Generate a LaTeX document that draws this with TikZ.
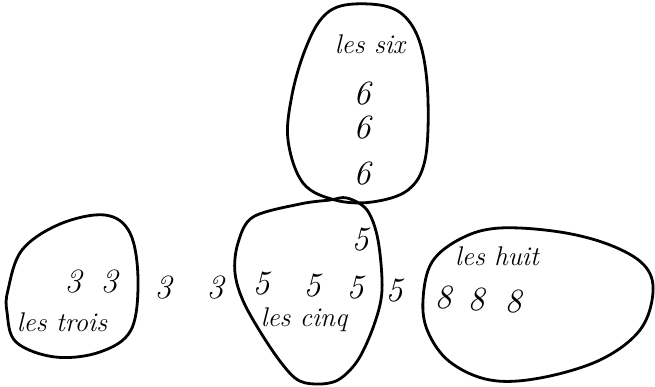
\documentclass[tikz,border=0pt]{standalone}
\begin{document}
\begin{tikzpicture}[x=1pt,y=-1pt,
  blob/.style={draw=black,line width=2.8pt,line join=round},
  lab/.style={font=\fontsize{27}{30}\selectfont\itshape,inner sep=0pt},
  dig/.style={font=\fontsize{34}{38}\selectfont\itshape,inner sep=0pt}]
\useasboundingbox (0,0) rectangle (655,386);
% blobs
\draw[blob] plot[smooth cycle,tension=0.6] coordinates {(345,5) (385,6) (408,20) (422,50) (428,100) (425,160) (408,190) (372,202) (335,200) (303,183) (288,140) (292,95) (305,50) (322,18)};
\draw[blob] plot[smooth cycle,tension=0.6] coordinates {(8,290) (22,250) (60,224) (105,215) (130,233) (138,280) (131,330) (100,352) (55,357) (16,342) (7,312)};
\draw[blob] plot[smooth cycle,tension=0.55] coordinates {(253,217) (300,204) (330,200) (347,198) (367,210) (378,240) (382,290) (374,325) (358,360) (338,380) (315,384) (295,378) (272,350) (245,305) (235,273) (238,243)};
\draw[blob] plot[smooth cycle,tension=0.6] coordinates {(432,262) (462,238) (500,228) (560,232) (610,245) (644,265) (653,292) (640,330) (600,360) (540,378) (490,380) (450,362) (428,332) (423,300)};
% les six
\node[lab] (tsix) at (370,44) {les six};
\node[dig] (s1) at (362,94) {6};
\node[dig] (s2) at (362,128) {6};
\node[dig] (s3) at (362,174) {6};
% les trois
\node[dig] (t1) at (73,282) {3};
\node[dig] (t2) at (109,282) {3};
\node[lab] (ttrois) at (62,322) {les trois};
\node[dig] (t3) at (163,288) {3};
\node[dig] (t4) at (215,288) {3};
% les cinq
\node[dig] (c1) at (360,240) {5};
\node[dig] (c2) at (261,284) {5};
\node[dig] (c3) at (312,286) {5};
\node[dig] (c4) at (355,288) {5};
\node[dig] (c5) at (394,291) {5};
\node[lab] (tcinq) at (304,320) {les cinq};
% les huit
\node[lab] (thuit) at (497,256) {les huit};
\node[dig] (h1) at (443,298) {8};
\node[dig] (h2) at (476,300) {8};
\node[dig] (h3) at (513,302) {8};
\end{tikzpicture}
\end{document}
